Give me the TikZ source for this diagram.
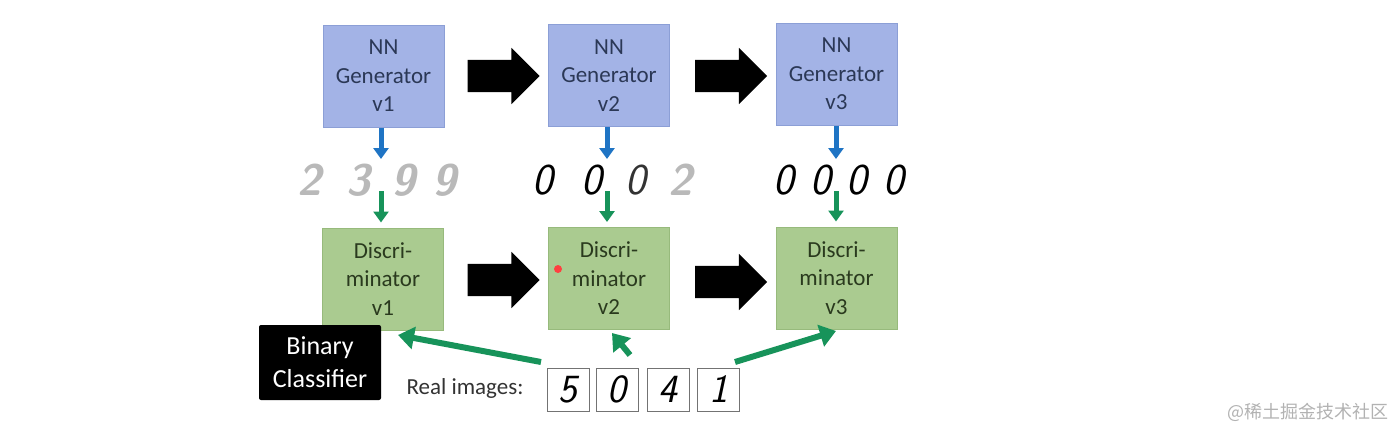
\documentclass[tikz,border=0pt]{standalone}
\usepackage{fontspec}
\setmainfont{Carlito}
\newfontfamily\cjk{Noto Sans CJK SC}
\usetikzlibrary{arrows.meta,shapes.arrows,calc}
\definecolor{genfill}{HTML}{A3B3E6}
\definecolor{gendraw}{HTML}{8C9FD6}
\definecolor{gentext}{HTML}{2B3856}
\definecolor{discfill}{HTML}{AACB90}
\definecolor{discdraw}{HTML}{97BA7C}
\definecolor{disctext}{HTML}{2A3A1E}
\definecolor{arrblue}{HTML}{1F74C4}
\definecolor{arrgreen}{HTML}{17935A}
\begin{document}
\begin{tikzpicture}[x=1pt,y=-1pt,
  box/.style={minimum width=121pt, minimum height=102pt, inner sep=0pt, align=center,
    font=\fontsize{23}{28.5}\selectfont, line width=1pt},
  gen/.style={box, fill=genfill, draw=gendraw, text=gentext},
  disc/.style={box, fill=discfill, draw=discdraw, text=disctext},
  blockarrow/.style={single arrow, fill=black, inner xsep=0pt, inner ysep=16pt,
    single arrow head extend=12pt, minimum height=72pt, single arrow head indent=0pt},
  smallblue/.style={arrblue, line width=5pt, -{Triangle[length=11pt,width=15pt]}},
  smallgreen/.style={arrgreen, line width=5pt, -{Triangle[length=11pt,width=15pt]}},
  biggreen/.style={arrgreen, line width=6pt, -{Triangle[length=16pt,width=22pt]}},
  gdigit/.style={inner sep=0pt, font=\fontsize{44}{44}\sffamily\slshape},
  fuzzy/.style={gdigit, text=gray!55, font=\fontsize{44}{44}\sffamily\bfseries\slshape},
  realbox/.style={draw=black!55, line width=1pt, minimum width=42pt, minimum height=43pt,
    inner sep=0pt, font=\fontsize{40}{40}\sffamily\slshape},
]
\useasboundingbox (0,0) rectangle (1400,429);

% generators
\node[gen] (g1) at (383.5,76) {NN\\Generator\\v1};
\node[gen] (g2) at (609,75.5) {NN\\Generator\\v2};
\node[gen] (g3) at (836.5,74) {NN\\Generator\\v3};

% discriminators
\node[disc] (d1) at (383,279) {Discri-\\minator\\v1};
\node[disc] (d2) at (609,278.5) {Discri-\\minator\\v2};
\node[disc] (d3) at (836.5,278) {Discri-\\minator\\v3};

% block arrows
\node[blockarrow] (ag1) at (495.5,76) {};
\node[blockarrow] (ag2) at (723,76) {};
\node[blockarrow] (ad1) at (495.5,280) {};
\node[blockarrow] (ad2) at (723,282) {};

% generated digits
\node[fuzzy] (f11) at (310,180) {2};
\node[fuzzy] (f12) at (359,180) {3};
\node[fuzzy] (f13) at (404,180) {9};
\node[fuzzy] (f14) at (445,180) {9};
\node[gdigit] (f21) at (543,180) {0};
\node[gdigit] (f22) at (592,180) {0};
\node[gdigit, text=black!80] (f23) at (636,180) {0};
\node[fuzzy] (f24) at (681,180) {2};
\node[gdigit] (f31) at (784,180) {0};
\node[gdigit] (f32) at (821,180) {0};
\node[gdigit] (f33) at (857,180) {0};
\node[gdigit] (f34) at (894,180) {0};

% blue / green small arrows
\coordinate (b1) at (381,159);
\coordinate (b2) at (607,159);
\coordinate (b3) at (836,159);
\coordinate (e1) at (381,191);
\coordinate (e2) at (607,191);
\coordinate (e3) at (836,191);
\draw[smallblue] (g1.south -| b1) -- (b1);
\draw[smallblue] (g2.south -| b2) -- (b2);
\draw[smallblue] (g3.south -| b3) -- (b3);
\draw[smallgreen, shorten >=5pt] (e1) -- (d1.north -| e1);
\draw[smallgreen, shorten >=5pt] (e2) -- (d2.north -| e2);
\draw[smallgreen, shorten >=5pt] (e3) -- (d3.north -| e3);

% red dot
\node[circle, fill=red!75!white, inner sep=0pt, minimum size=8pt] (dot) at (558,269) {};

% binary classifier
\node[fill=black, text=white, minimum width=122pt, minimum height=75pt, inner sep=0pt,
  rounded corners=2pt, align=center, font=\fontsize{26}{33}\selectfont] (bc) at (320,362.5)
  {Binary\\Classifier};

% real images
\node[anchor=base east, text=black!80, font=\fontsize{23}{23}\selectfont] (ri) at (527,394) {Real images:};
\node[realbox] (r1) at (568,389.5) {5};
\node[realbox] (r2) at (617,389.5) {0};
\node[realbox] (r3) at (668,389.5) {4};
\node[realbox] (r4) at (718.5,389.5) {1};

% thick green arrows
\coordinate (c1s) at (541,362);
\coordinate (c1e) at (398,335);
\coordinate (c2s) at (630,355);
\coordinate (c2e) at (612,333);
\coordinate (c3s) at (735,362);
\coordinate (c3e) at (836,331);
\draw[biggreen] (c1s) -- (c1e);
\draw[biggreen] (c2s) -- (c2e);
\draw[biggreen] (c3s) -- (c3e);

% watermark
\node[anchor=base east, text=gray!60, font=\cjk\fontsize{18}{18}\selectfont] (wm) at (1392,418) {@稀土掘金技术社区};
\end{tikzpicture}
\end{document}
